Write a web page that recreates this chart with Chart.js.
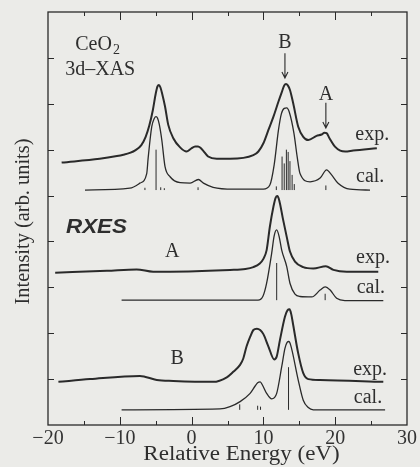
<!DOCTYPE html>
<html>
<head>
<meta charset="utf-8">
<script src="https://cdn.jsdelivr.net/npm/chart.js@4.4.1/dist/chart.umd.min.js"></script>
<style>
  html, body { margin: 0; padding: 0; background: #ebebe8; }
</style>
</head>
<body>
<canvas id="spectra" width="420" height="467"></canvas>
<script>
// CeO2 3d-XAS (top) and RXES at excitation energies A and B, exp. vs cal.
// energies in eV relative, intensities in stacked arbitrary units

const xasExpE = [-18.1, -12.8, -10.4, -9.5, -8.6, -7.8, -7.0, -6.4, -5.9, -5.4, -5.0, -4.75, -4.55, -4.35, -4.1, -3.7, -3.25, -2.55, -1.6, -0.7, -0.1, 0.5, 0.9, 1.3, 1.6, 2.3, 3.5, 5.35, 8.6, 9.3, 10.0, 10.7, 11.4, 12.1, 12.55, 12.9, 13.15, 13.4, 13.7, 14.15, 14.85, 15.55, 16.25, 17.4, 18.1, 18.5, 18.8, 19.2, 20.0, 20.7, 21.4, 22.5, 25.8];
const xasExpI = [5.72, 5.80, 5.86, 5.89, 5.93, 5.99, 6.10, 6.28, 6.52, 6.86, 7.22, 7.38, 7.41, 7.36, 7.22, 6.94, 6.54, 6.25, 6.05, 5.96, 6.02, 6.07, 6.07, 6.03, 5.98, 5.85, 5.80, 5.80, 5.88, 5.96, 6.14, 6.43, 6.72, 7.05, 7.25, 7.40, 7.43, 7.40, 7.30, 7.01, 6.50, 6.28, 6.21, 6.30, 6.33, 6.37, 6.36, 6.25, 6.06, 5.98, 5.96, 5.98, 6.03];

const xasCalE = [-14.85, -8.6, -7.2, -6.25, -6.05, -5.55, -5.2, -4.95, -4.75, -4.5, -4.15, -3.7, -3.0, -1.6, -0.2, 0.95, 1.65, 3.0, 5.8, 10.0, 10.9, 11.5, 12.1, 12.5, 12.9, 13.25, 13.6, 14.25, 14.7, 15.1, 16.5, 17.9, 18.8, 19.5, 20.4, 22.05, 24.85];
const xasCalI = [5.12, 5.16, 5.27, 5.48, 5.82, 6.50, 6.68, 6.72, 6.69, 6.55, 6.21, 5.63, 5.41, 5.28, 5.27, 5.35, 5.27, 5.18, 5.14, 5.14, 5.23, 5.67, 6.43, 6.78, 6.90, 6.91, 6.82, 6.36, 5.85, 5.48, 5.30, 5.38, 5.56, 5.45, 5.27, 5.14, 5.12];
const xasCalBase = 5.12;
const xasStickE = [-6.5, -4.95, -4.3, -3.8, 0.9, 11.8, 12.6, 12.9, 13.2, 13.45, 13.7, 14.0, 14.3, 18.7];
const xasStickI = [5.17, 6.0, 5.18, 5.16, 5.18, 5.2, 5.85, 5.7, 6.0, 5.95, 5.75, 5.45, 5.25, 5.22];

const rxesAExpE = [-19.0, -11.8, -7.65, -5.35, 5.35, 7.5, 8.6, 9.5, 10.0, 10.45, 10.9, 11.4, 11.7, 11.95, 12.2, 12.75, 13.25, 13.7, 14.4, 15.55, 16.95, 18.7, 19.75, 21.6, 26.0];
const rxesAExpI = [3.32, 3.36, 3.39, 3.34, 3.38, 3.40, 3.44, 3.52, 3.62, 3.81, 4.32, 4.76, 4.95, 4.99, 4.90, 4.47, 4.10, 3.78, 3.56, 3.44, 3.41, 3.46, 3.38, 3.34, 3.34];

const rxesACalE = [-9.75, 9.25, 9.95, 10.45, 11.15, 11.5, 11.85, 12.2, 12.55, 13.25, 13.7, 14.4, 15.1, 16.75, 17.9, 18.6, 19.3, 20.2, 21.35, 26.7];
const rxesACalI = [2.72, 2.72, 2.81, 3.09, 3.74, 4.12, 4.25, 4.10, 3.81, 3.45, 3.09, 2.85, 2.80, 2.79, 2.94, 3.01, 2.94, 2.76, 2.71, 2.71];
const rxesACalBase = 2.72;
const rxesAStickE = [11.85, 18.6];
const rxesAStickI = [3.53, 2.86];

const rxesBExpE = [-18.55, -14.15, -7.2, -4.85, -2.55, 3.0, 4.9, 5.8, 6.75, 7.2, 7.65, 8.15, 8.6, 9.1, 9.55, 10.0, 10.7, 11.5, 11.85, 12.3, 13.0, 13.35, 13.65, 13.9, 14.15, 14.85, 15.55, 16.25, 17.9, 26.7];
const rxesBExpI = [0.94, 1.00, 1.07, 0.98, 0.96, 0.94, 1.04, 1.16, 1.31, 1.45, 1.71, 1.92, 2.07, 2.10, 2.07, 1.98, 1.71, 1.43, 1.49, 1.85, 2.36, 2.50, 2.52, 2.40, 2.18, 1.56, 1.13, 1.00, 0.98, 0.94];

const rxesBCalE = [-9.75, 3.95, 5.35, 6.75, 8.15, 8.85, 9.2, 9.55, 9.9, 10.45, 11.15, 11.85, 12.55, 13.0, 13.3, 13.55, 13.8, 14.85, 15.55, 16.25, 16.95, 26.95];
const rxesBCalI = [0.33, 0.35, 0.40, 0.51, 0.69, 0.85, 0.92, 0.94, 0.86, 0.69, 0.57, 0.69, 1.27, 1.67, 1.80, 1.82, 1.74, 0.98, 0.54, 0.38, 0.33, 0.33];
const rxesBCalBase = 0.33;
const rxesBStickE = [6.7, 9.2, 9.6, 13.5];
const rxesBStickI = [0.45, 0.42, 0.40, 1.26];

const xTicks = [-20, -10, 0, 10, 20, 30];

const ink = '#2a2a2a';
const serif = '"Liberation Serif", "Times New Roman", serif';

function points(es, is) {
  return es.map((e, i) => ({ x: e, y: is[i] }));
}

// each stick is a short vertical segment from the baseline, separated by gaps
function sticks(es, is, base) {
  const out = [];
  es.forEach((e, i) => {
    out.push({ x: e, y: base }, { x: e, y: is[i] }, { x: e, y: null });
  });
  return out;
}

function curve(data, width) {
  return {
    data: data,
    borderColor: ink,
    borderWidth: width,
    pointRadius: 0,
    cubicInterpolationMode: 'monotone',
    fill: false,
  };
}

function stickSet(data) {
  return {
    data: data,
    borderColor: ink,
    borderWidth: 1,
    pointRadius: 0,
    spanGaps: false,
    tension: 0,
  };
}

// in-plot labels, anchored in data units
const notes = [
  { t: '3d\u2013XAS', x: -17.6, y: 7.74, align: 'left' },
  { t: 'B', x: 13.0, y: 8.32, align: 'center' },
  { t: 'A', x: 18.7, y: 7.19, align: 'center' },
  { t: 'exp.', x: 22.8, y: 6.32, align: 'left' },
  { t: 'cal.', x: 22.9, y: 5.40, align: 'left' },
  { t: 'A', x: -2.7, y: 3.77, align: 'center' },
  { t: 'exp.', x: 22.9, y: 3.64, align: 'left' },
  { t: 'cal.', x: 23.0, y: 2.99, align: 'left' },
  { t: 'B', x: -2.0, y: 1.44, align: 'center' },
  { t: 'exp.', x: 22.5, y: 1.20, align: 'left' },
  { t: 'cal.', x: 22.6, y: 0.59, align: 'left' },
];
const arrows = [
  { x: 13.0, from: 8.10, to: 7.56 },
  { x: 18.7, from: 7.02, to: 6.47 },
];

function drawText(ctx, str, x, y, font, align, sx) {
  ctx.save();
  ctx.translate(x, y);
  ctx.scale(sx || 1, 1);
  ctx.font = font;
  ctx.textAlign = align || 'left';
  ctx.textBaseline = 'middle';
  ctx.fillText(str, 0, 0);
  ctx.restore();
}

const paper = {
  id: 'paper',
  beforeDraw(chart) {
    const ctx = chart.ctx;
    ctx.save();
    ctx.fillStyle = '#ebebe8';
    ctx.fillRect(0, 0, chart.width, chart.height);
    ctx.restore();
  },
};

// closed frame with inward ticks on all four sides
const frame = {
  id: 'frame',
  afterDraw(chart) {
    const { ctx, chartArea: a, scales } = chart;
    const xs = scales.x, ys = scales.y;
    ctx.save();
    ctx.strokeStyle = ink;
    ctx.lineWidth = 1.3;
    ctx.strokeRect(a.left, a.top, a.right - a.left, a.bottom - a.top);
    ctx.lineWidth = 1;
    ctx.beginPath();
    for (let v = -15; v < 30; v += 5) {
      const px = Math.round(xs.getPixelForValue(v)) + 0.5;
      const len = v % 10 === 0 ? 8 : 4;
      ctx.moveTo(px, a.bottom); ctx.lineTo(px, a.bottom - len);
      ctx.moveTo(px, a.top); ctx.lineTo(px, a.top + len);
    }
    for (let v = 1; v < 9; v++) {
      const py = Math.round(ys.getPixelForValue(v)) + 0.5;
      ctx.moveTo(a.left, py); ctx.lineTo(a.left + 6, py);
      ctx.moveTo(a.right, py); ctx.lineTo(a.right - 6, py);
    }
    ctx.stroke();
    ctx.restore();
  },
};

const labels = {
  id: 'labels',
  afterDraw(chart) {
    const { ctx, chartArea: a, scales } = chart;
    const xs = scales.x, ys = scales.y;
    ctx.save();
    ctx.fillStyle = '#2e2e2e';

    // CeO2 with subscript
    const cx = xs.getPixelForValue(-16.2), cy = ys.getPixelForValue(8.28);
    ctx.font = '20px ' + serif;
    drawText(ctx, 'CeO', cx, cy, '20px ' + serif, 'left');
    drawText(ctx, '2', cx + ctx.measureText('CeO').width + 1, cy + 5, '14px ' + serif, 'left');

    notes.forEach(n => {
      drawText(ctx, n.t, xs.getPixelForValue(n.x), ys.getPixelForValue(n.y), '20px ' + serif, n.align);
    });
    drawText(ctx, 'RXES', xs.getPixelForValue(-17.5), ys.getPixelForValue(4.31),
      'italic bold 20px "Liberation Sans", Arial, sans-serif', 'left', 1.12);

    ctx.strokeStyle = ink;
    ctx.lineWidth = 1.1;
    arrows.forEach(ar => {
      const px = xs.getPixelForValue(ar.x);
      const y0 = ys.getPixelForValue(ar.from), y1 = ys.getPixelForValue(ar.to);
      ctx.beginPath();
      ctx.moveTo(px, y0); ctx.lineTo(px, y1);
      ctx.moveTo(px - 3, y1 - 6); ctx.lineTo(px, y1); ctx.lineTo(px + 3, y1 - 6);
      ctx.stroke();
    });

    // axis titles
    drawText(ctx, 'Relative Energy (eV)', (a.left + a.right) / 2 + 14, 455, '20px ' + serif, 'center', 1.15);
    ctx.save();
    ctx.translate(24, (a.top + a.bottom) / 2 + 3);
    ctx.rotate(-Math.PI / 2);
    drawText(ctx, 'Intensity (arb. units)', 0, 0, '20px ' + serif, 'center', 1.02);
    ctx.restore();
    ctx.restore();
  },
};

new Chart(document.getElementById('spectra'), {
  type: 'line',
  data: {
    datasets: [
      curve(points(xasExpE, xasExpI), 2),
      curve(points(xasCalE, xasCalI), 1.3),
      stickSet(sticks(xasStickE, xasStickI, xasCalBase)),
      curve(points(rxesAExpE, rxesAExpI), 2),
      curve(points(rxesACalE, rxesACalI), 1.3),
      stickSet(sticks(rxesAStickE, rxesAStickI, rxesACalBase)),
      curve(points(rxesBExpE, rxesBExpI), 2),
      curve(points(rxesBCalE, rxesBCalI), 1.3),
      stickSet(sticks(rxesBStickE, rxesBStickI, rxesBCalBase)),
    ],
  },
  options: {
    responsive: false,
    animation: false,
    layout: { padding: { top: 12, right: 13, left: 0, bottom: 0 } },
    plugins: {
      legend: { display: false },
      tooltip: { enabled: false },
    },
    scales: {
      x: {
        type: 'linear',
        min: -20,
        max: 30,
        grid: { display: false, drawTicks: false },
        border: { display: false },
        afterBuildTicks: s => { s.ticks = xTicks.map(v => ({ value: v })); },
        ticks: {
          padding: 2,
          color: '#333',
          maxRotation: 0,
          autoSkip: false,
          font: { family: serif, size: 20 },
          callback: v => (v < 0 ? '\u2212' + Math.abs(v) : String(v)),
        },
        afterFit: s => { s.height = 42; },
      },
      y: {
        type: 'linear',
        min: 0,
        max: 9,
        grid: { display: false, drawTicks: false },
        border: { display: false },
        ticks: { display: false },
        afterFit: s => { s.width = 48; },
      },
    },
  },
  plugins: [paper, frame, labels],
});
</script>
</body>
</html>
